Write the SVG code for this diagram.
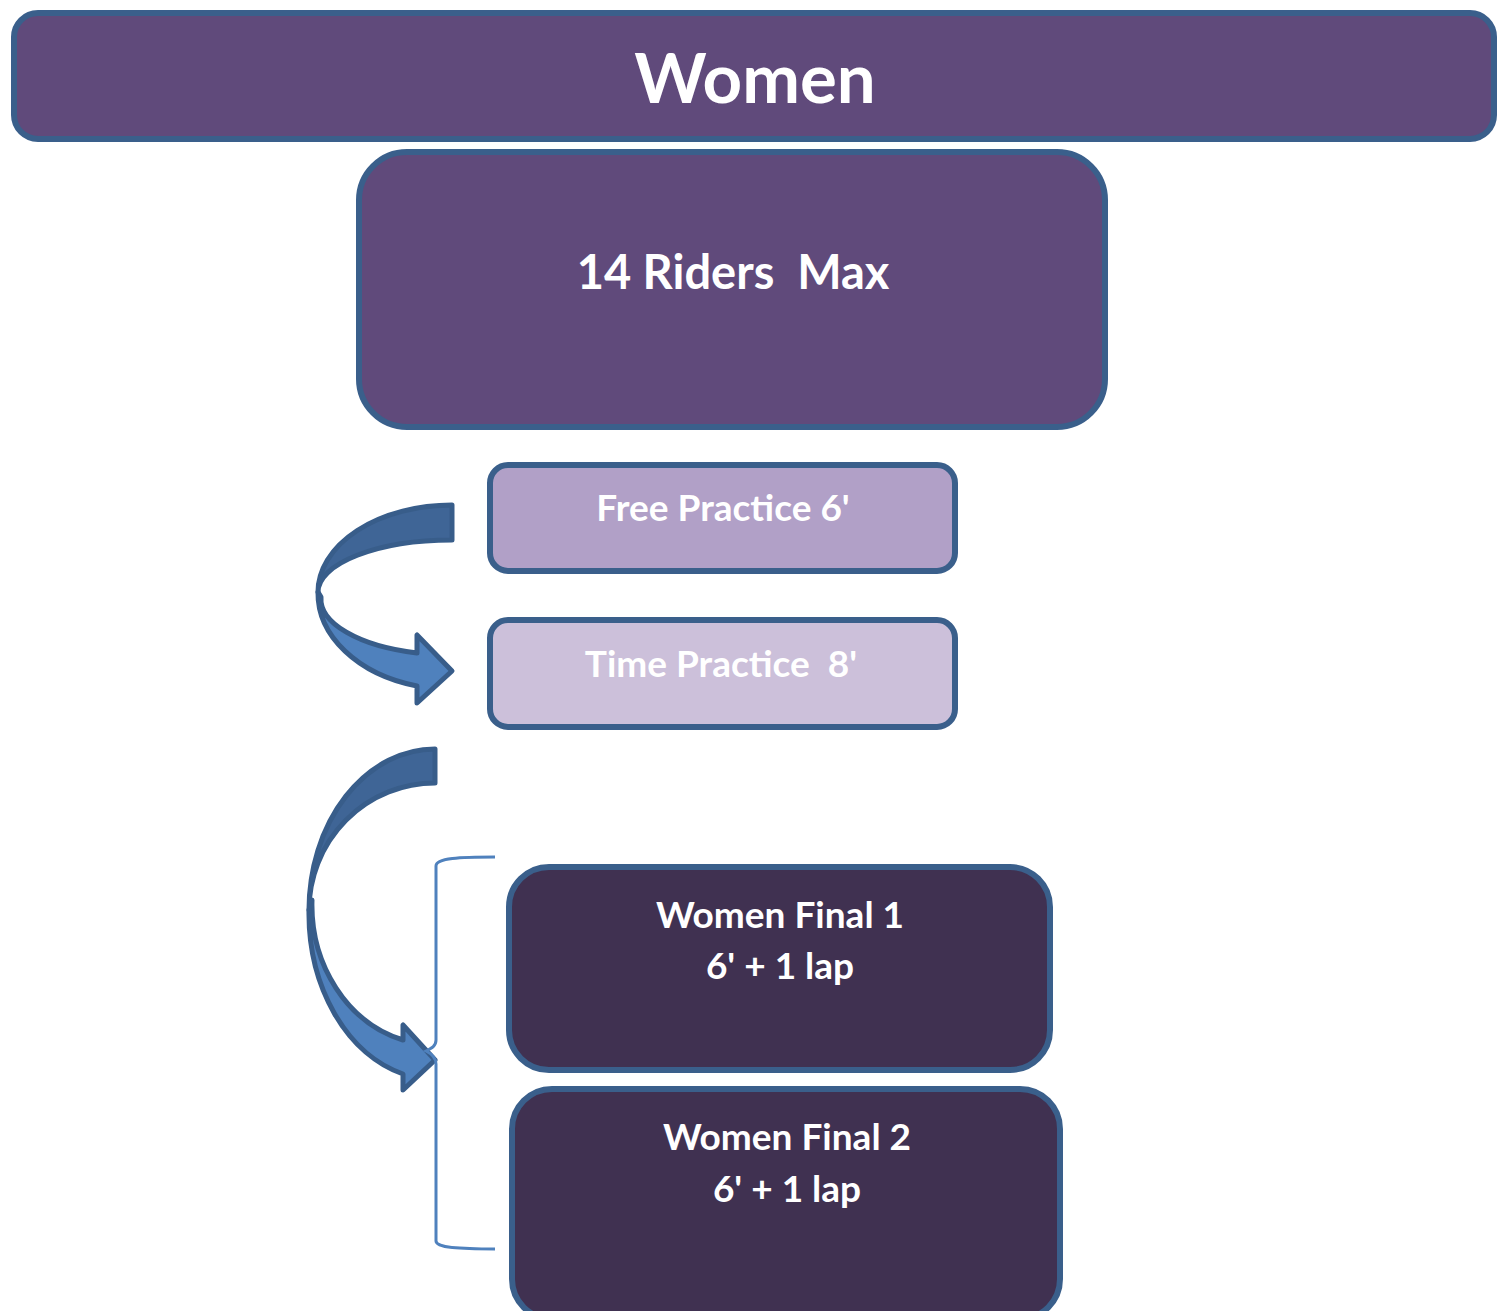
<svg xmlns="http://www.w3.org/2000/svg" width="1498" height="1311" viewBox="0 0 1498 1311">
<style>
.box{stroke:#3A5F8B;stroke-width:6}
.t{font-family:Lato,"Liberation Sans",sans-serif;font-weight:bold;fill:#FFFFFF;text-anchor:middle}
.dark{fill:#3F6596;stroke:#385D8A;stroke-width:5;stroke-linejoin:round}
.light{fill:#4F81BD;stroke:#385D8A;stroke-width:5;stroke-linejoin:round}
</style>
<rect width="1498" height="1311" fill="#FFFFFF"/>
<g id="women-banner">
<rect class="box" x="14" y="13" width="1480" height="126" rx="24" fill="#604A7B"/>
<text class="t" x="755" y="103" font-size="69">Women</text>
</g>
<g id="riders">
<rect class="box" x="359" y="152" width="746" height="275" rx="48" fill="#604A7B"/>
<text class="t" x="733" y="289" font-size="47" xml:space="preserve">14 Riders  Max</text>
</g>
<g id="free-practice">
<rect class="box" x="490" y="465" width="465" height="106" rx="18" fill="#B1A0C7"/>
<text class="t" x="723" y="521" font-size="37">Free Practice 6'</text>
</g>
<g id="time-practice">
<rect class="box" x="490" y="620" width="465" height="107" rx="18" fill="#CCC0DA"/>
<text class="t" x="721" y="677" font-size="37" xml:space="preserve">Time Practice  8'</text>
</g>
<g id="final-1">
<rect class="box" x="509" y="867" width="541" height="203" rx="40" fill="#403151"/>
<text class="t" x="780" y="928" font-size="37">Women Final 1</text>
<text class="t" x="780" y="979" font-size="37">6' + 1 lap</text>
</g>
<g id="final-2">
<rect class="box" x="512" y="1089" width="548" height="230" rx="40" fill="#403151"/>
<text class="t" x="787" y="1150" font-size="37">Women Final 2</text>
<text class="t" x="787" y="1202" font-size="37">6' + 1 lap</text>
</g>
<g id="connectors">
<path class="light" d="M318,592 A134,96 0 0 0 417,686 L417,703 L452,671 L417,635 L417,653 A130,56 0 0 1 321,597 Z"/>
<path class="dark" d="M452,505 L452,540 A134,52 0 0 0 318,592 A134,87 0 0 1 452,505 Z"/>
<path class="light" d="M309,910 A126,166 0 0 0 403,1074 L403,1090 L435,1060 L403,1025 L403,1040 A123,140 0 0 1 312,900 Z"/>
<path class="dark" d="M435,749 L435,783 A126,127 0 0 0 309,910 A126,161 0 0 1 435,749 Z"/>
<path d="M495,857 C460,857 436,858 436,866 L436,1040 C436,1046 432,1048 426,1051 C432,1054 436,1058 436,1064 L436,1241 C436,1248 460,1249 495,1249" fill="none" stroke="#4F81BD" stroke-width="3"/>
</g>
</svg>
